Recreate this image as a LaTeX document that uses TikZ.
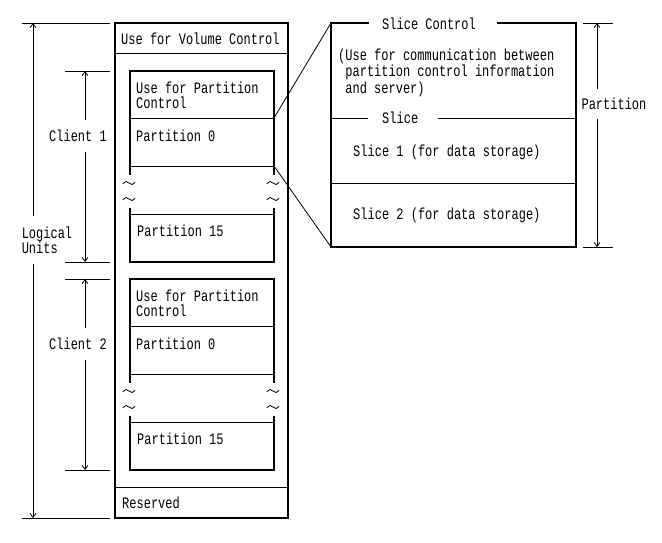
\documentclass[tikz,border=0pt]{standalone}
\usepackage{fontspec}
\setmonofont[FakeStretch=0.75]{Liberation Mono}
\usetikzlibrary{arrows.meta}

\begin{document}
\begin{tikzpicture}[x=1pt,y=-1pt, font=\ttfamily\fontsize{16}{15}\selectfont]
    \tikzset{boxline/.style = {line width=1.8pt}}
    \tikzset{divline/.style = {line width=.8pt}}
    \tikzset{lbl/.style = {anchor=west, inner sep=0pt, align=left}}
    \tikzset{dimlbl/.style = {inner sep=0pt, align=left, minimum height=32pt}}
    \tikzset{dimend/.style = {divline, -{Straight Barb[length=4pt,width=6pt]}}}
    \tikzset{wave/.pic = {\draw[divline] (-6,1) sin (-3,-1.5) cos (0,0) sin (3,1.5) cos (6,-1);}}

    \useasboundingbox (0,0) rectangle (662,542);

    % logical unit
    \draw[boxline] (115,23) rectangle (288,518);
    \draw[divline] (115,53) -- (288,53);
    \draw[divline] (115,487) -- (288,487);
    \node[lbl] (vol) at (121,39) {Use for Volume Control};
    \node[lbl] (res) at (122,503) {Reserved};

    % clients
    \foreach \i/\yo in {1/0, 2/208} {
        \draw[boxline] (130,175+\yo) -- (130,71+\yo) -- (274,71+\yo) -- (274,175+\yo);
        \draw[boxline] (130,208+\yo) -- (130,262+\yo) -- (274,262+\yo) -- (274,208+\yo);
        \draw[divline] (130,118+\yo) -- (274,118+\yo);
        \draw[divline] (130,166+\yo) -- (274,166+\yo);
        \draw[divline] (130,214+\yo) -- (274,214+\yo);
        \pic at (129,183+\yo) {wave};
        \pic at (129,199+\yo) {wave};
        \pic at (273,183+\yo) {wave};
        \pic at (273,199+\yo) {wave};
        \coordinate (pc\i) at (274,118+\yo);
        \coordinate (pe\i) at (274,166+\yo);

        \node[lbl] (ctl\i) at (136,95.5+\yo) {Use for Partition\\Control};
        \node[lbl] (p0\i) at (136,136+\yo) {Partition 0};
        \node[lbl] (p15\i) at (137,231+\yo) {Partition 15};

        % client size
        \coordinate (ct\i) at (85,71+\yo);
        \coordinate (cb\i) at (85,262+\yo);
        \draw[divline] (65,71+\yo) -- (110,71+\yo);
        \draw[divline] (65,262+\yo) -- (110,262+\yo);
        \node[dimlbl] (cl\i) at (78,136+\yo) {Client \i};
        \draw[dimend] (ct\i |- cl\i.north) -- (ct\i);
        \draw[dimend] (cb\i |- cl\i.south) -- (cb\i);
    }

    % logical units size
    \coordinate (lt) at (33,23);
    \coordinate (lb) at (33,518);
    \draw[divline] (22,23) -- (110,23);
    \draw[divline] (22,518) -- (110,518);
    \node[dimlbl, minimum height=48pt] (lu) at (47,240) {Logical\\Units};
    \draw[dimend] (lt |- lu.north) -- (lt);
    \draw[dimend] (lb |- lu.south) -- (lb);

    % partition detail
    \coordinate (rtl) at (331,23);
    \coordinate (rbl) at (331,247);
    \draw[boxline] (369,23) -- (rtl) -- (rbl) -- (576,247) -- (576,23) -- (497,23);
    \draw[divline] (331,118) -- (368,118);
    \draw[divline] (438,118) -- (576,118);
    \draw[divline] (331,183) -- (576,183);
    \node[lbl] (sc) at (382,24) {Slice Control};
    \node[lbl, font=\ttfamily\fontsize{16}{16.5}\selectfont] (scu) at (338,72.5)
        {(Use for communication between\\\hphantom{(}partition control information\\\hphantom{(}and server)};
    \node[lbl] (sl) at (382,118) {Slice};
    \node[lbl] (s1) at (353,152) {Slice 1 (for data storage)};
    \node[lbl] (s2) at (353,215) {Slice 2 (for data storage)};

    \draw[divline] (pc1) -- (rtl);
    \draw[divline] (pe1) -- (rbl);

    % partition size
    \coordinate (pt) at (597,23);
    \coordinate (pb) at (597,247);
    \draw[divline] (583,23) -- (613,23);
    \draw[divline] (583,247) -- (613,247);
    \node[dimlbl, minimum height=30pt] (pl) at (614,104) {Partition};
    \draw[dimend] (pt |- pl.north) -- (pt);
    \draw[dimend] (pb |- pl.south) -- (pb);

\end{tikzpicture}
\end{document}
